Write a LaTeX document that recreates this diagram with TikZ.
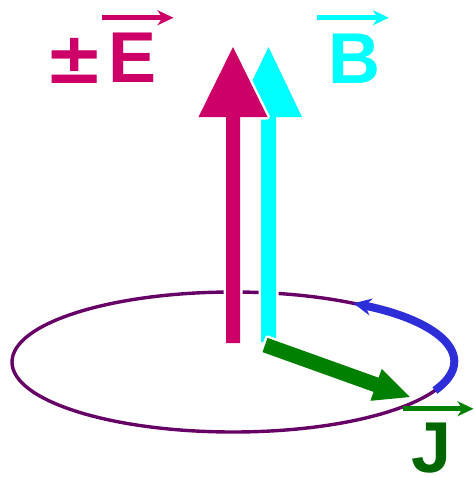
\documentclass[tikz,border=0pt]{standalone}
\usepackage{fontspec}
\setmainfont{Liberation Sans}
\newfontfamily\symfont{DejaVu Sans}
\usetikzlibrary{arrows.meta, positioning, calc}
\definecolor{emag}{HTML}{CC0066}
\definecolor{bcyan}{HTML}{00FFFF}
\definecolor{jgreen}{HTML}{006600}
\definecolor{agreen}{HTML}{008000}
\definecolor{loopviolet}{HTML}{660066}
\definecolor{spinblue}{HTML}{2E2ED8}
\tikzset{
  fieldlabel/.style={inner sep=0pt, anchor=base west,
    font=\fontsize{72}{72}\selectfont\bfseries},
  vecarrow/.style={line width=5pt, -{Stealth[length=16pt,width=15pt,inset=5pt]}},
  fatarrow/.style={preaction={draw=white, line width=5pt, line join=round}}
}
\begin{document}
\begin{tikzpicture}[x=1pt,y=-1pt]
\useasboundingbox (0,0) rectangle (474,477);
\coordinate (O) at (233,362);

% current loop and its sense
\draw[loopviolet, line width=3.4pt] (O) ellipse [x radius=221pt, y radius=70pt];
\draw[spinblue, line width=8pt, -{Stealth[length=18pt,width=17pt,inset=6pt]}]
  ($(O)+(-24:221pt and 70pt)$) arc [start angle=-24, end angle=57,
  x radius=221pt, y radius=70pt];

% fields
\fill[bcyan, fatarrow] (261,342) -- (261,117) -- (235,117) -- (268.5,47)
  -- (302,117) -- (276,117) -- (276,342) -- cycle;
\fill[emag, fatarrow] (226,343) -- (226,117) -- (198.5,117) -- (233,47)
  -- (267.5,117) -- (240,117) -- (240,343) -- cycle;
\fill[agreen, fatarrow] (267.5,337.9) -- (378.6,377.7) -- (381.8,368.8)
  -- (410,397) -- (370.4,400.8) -- (373.6,391.9) -- (262.5,352.1) -- cycle;

% labels
\node[fieldlabel, text=emag] (Elabel) at (108,82) {E};
\node[fieldlabel, text=emag] (pmlabel) at (44,83) {\symfont ±};
\node[fieldlabel, text=bcyan] (Blabel) at (328,83) {B};
\node[fieldlabel, text=jgreen] (Jlabel) at (411,472) {J};

\draw[vecarrow, emag] ($(Elabel.north west)+(-6,-14.5)$) -- ($(Elabel.north east)+(17,-14.5)$);
\draw[vecarrow, bcyan] ($(Blabel.north west)+(-11,-15.5)$) -- ($(Blabel.north east)+(8.5,-15.5)$);
\draw[vecarrow, agreen] ($(Jlabel.north west)+(-8,-13.5)$) -- ($(Jlabel.north east)+(22,-13.5)$);
\end{tikzpicture}
\end{document}
